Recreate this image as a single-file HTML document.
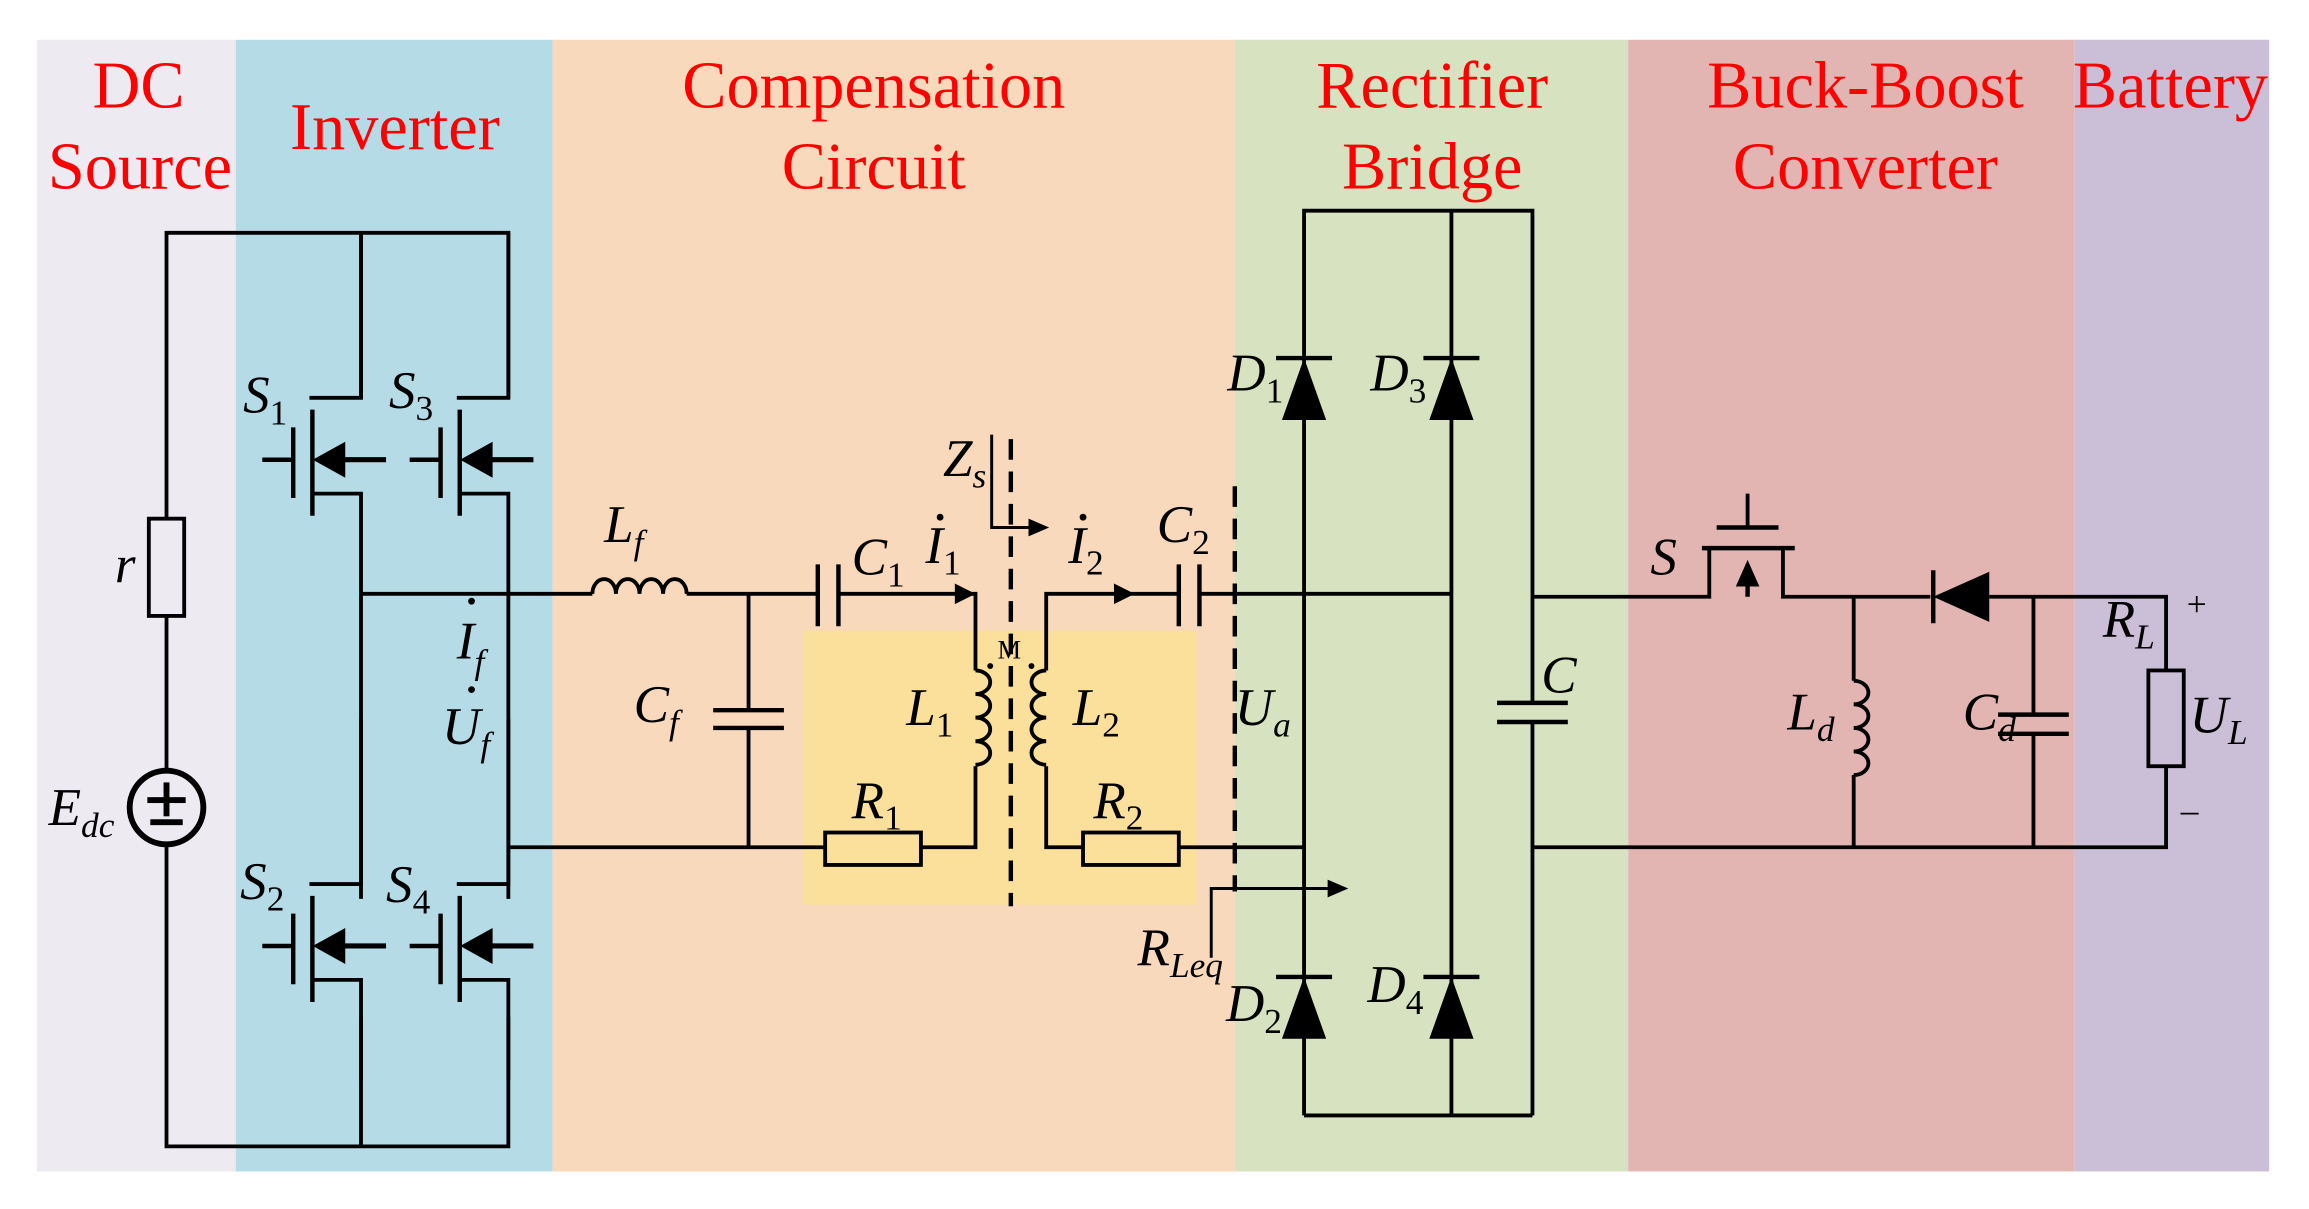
<!DOCTYPE html>
<html><head><style>html,body{margin:0;padding:0;background:#fff}svg{display:block}</style></head><body>
<svg width="2309" height="1209" viewBox="0 0 1567 820.5" preserveAspectRatio="none" xmlns="http://www.w3.org/2000/svg">
<rect x="25" y="27" width="135" height="768" fill="#edeaf2"/>
<rect x="160" y="27" width="215" height="768" fill="#b5dce6"/>
<rect x="375" y="27" width="463" height="768" fill="#f9d9bb"/>
<rect x="838" y="27" width="267" height="768" fill="#d6e2c0"/>
<rect x="1105" y="27" width="303" height="768" fill="#e3b5b2"/>
<rect x="1408" y="27" width="132" height="768" fill="#cbbfd8"/>
<rect x="545" y="428" width="267" height="186" fill="#fbe09b"/>
<g font-family="Liberation Serif, serif" fill="#f00" font-size="45" text-anchor="middle">
<text x="94" y="73">DC</text><text x="95" y="128">Source</text>
<text x="268" y="101">Inverter</text>
<text x="593" y="73">Compensation</text><text x="593" y="128">Circuit</text>
<text x="972" y="73">Rectifier</text><text x="972" y="128">Bridge</text>
<text x="1266" y="73">Buck-Boost</text><text x="1266" y="128">Converter</text>
<text x="1473" y="73">Battery</text>
</g>
<g stroke="#000" stroke-width="2.6" fill="none">
<polyline points="113,352 113,158 345,158 345,270"/>
<line x1="245" y1="158" x2="245" y2="270"/>
<rect x="101" y="352" width="24" height="66"/>
<line x1="113" y1="418" x2="113" y2="522"/>
<circle cx="113" cy="548" r="25" stroke-width="4"/>
<polyline points="113,573 113,778 345,778 345,690"/>
<line x1="245" y1="778" x2="245" y2="690"/>
<g id="m">
<polyline points="245,158 245,270 210,270"/>
<line x1="212" y1="278" x2="212" y2="350" stroke-width="3"/>
<line x1="199" y1="290" x2="199" y2="338" stroke-width="3"/>
<line x1="178" y1="312" x2="199" y2="312" stroke-width="3"/>
<line x1="225" y1="312" x2="262" y2="312" stroke-width="3.5"/>
<polygon points="215,312 233,302 233,322" fill="#000"/>
<polyline points="212,335 245,335 245,403"/>
</g>
<use href="#m" transform="translate(100,0)"/>
<use href="#m" transform="translate(0,330)"/>
<use href="#m" transform="translate(100,330)"/>
<line x1="245" y1="403" x2="245" y2="610"/>
<line x1="345" y1="403" x2="345" y2="610"/>
<line x1="245" y1="403" x2="402" y2="403"/>
<path d="M402,403 a8,10 0 0 1 16,0 a8,10 0 0 1 16,0 a8,10 0 0 1 16,0 a8,10 0 0 1 16,0"/>
<line x1="466" y1="403" x2="555" y2="403"/>
<line x1="555" y1="383" x2="555" y2="425" stroke-width="3"/>
<line x1="569" y1="383" x2="569" y2="425" stroke-width="3"/>
<polyline points="569,403 662,403 662,455"/>
<line x1="508" y1="403" x2="508" y2="482"/>
<line x1="484" y1="482" x2="532" y2="482" stroke-width="3"/>
<line x1="484" y1="494" x2="532" y2="494" stroke-width="3"/>
<polyline points="345,575 560,575"/>
<line x1="508" y1="494" x2="508" y2="575"/>
<rect x="560" y="565" width="65" height="22"/>
<polyline points="625,575 662,575 662,520"/>
<path d="M662,455 a10,8 0 0 1 0,16 a10,8 0 0 1 0,16 a10,8 0 0 1 0,16 a10,8 0 0 1 0,16"/>
<path d="M710,455 a10,8 0 0 0 0,16 a10,8 0 0 0 0,16 a10,8 0 0 0 0,16 a10,8 0 0 0 0,16"/>
<polyline points="710,455 710,403 800,403"/>
<polyline points="710,520 710,575 735,575"/>
<rect x="735" y="565" width="65" height="22"/>
<line x1="800" y1="575" x2="885" y2="575"/>
<line x1="800" y1="383" x2="800" y2="425" stroke-width="3"/>
<line x1="814" y1="383" x2="814" y2="425" stroke-width="3"/>
<line x1="814" y1="403" x2="985" y2="403"/>
<line x1="686" y1="298" x2="686" y2="615" stroke-dasharray="14,8" stroke-width="3"/>
<line x1="838" y1="330" x2="838" y2="605" stroke-dasharray="14,8" stroke-width="3"/>
<polyline points="673,295 673,358 700,358" stroke-width="2"/>
<polyline points="822,650 822,603 905,603" stroke-width="2"/>
<polyline points="885,757 885,143 1040,143 1040,477"/>
<line x1="985" y1="143" x2="985" y2="757"/>
<line x1="1040" y1="490" x2="1040" y2="757"/>
<line x1="885" y1="757" x2="1040" y2="757"/>
<line x1="1016" y1="477" x2="1064" y2="477" stroke-width="3"/>
<line x1="1016" y1="490" x2="1064" y2="490" stroke-width="3"/>
<line x1="866" y1="243" x2="904" y2="243" stroke-width="3"/>
<line x1="966" y1="243" x2="1004" y2="243" stroke-width="3"/>
<line x1="866" y1="663" x2="904" y2="663" stroke-width="3"/>
<line x1="966" y1="663" x2="1004" y2="663" stroke-width="3"/>
<polyline points="1040,405 1160,405 1160,372"/>
<line x1="1155" y1="372" x2="1218" y2="372" stroke-width="3"/>
<line x1="1165" y1="358" x2="1207" y2="358" stroke-width="3"/>
<line x1="1186" y1="335" x2="1186" y2="358"/>
<polyline points="1210,372 1210,405 1310,405"/>
<line x1="1186" y1="405" x2="1186" y2="392" stroke-width="3"/>
<line x1="1312" y1="387" x2="1312" y2="423" stroke-width="3"/>
<polyline points="1350,405 1470,405 1470,455"/>
<rect x="1458" y="455" width="24" height="65"/>
<polyline points="1470,520 1470,575 1040,575"/>
<polyline points="1258,405 1258,462"/>
<path d="M1258,462 a10,8 0 0 1 0,16 a10,8 0 0 1 0,16 a10,8 0 0 1 0,16 a10,8 0 0 1 0,16"/>
<line x1="1258" y1="526" x2="1258" y2="575"/>
<line x1="1380" y1="405" x2="1380" y2="485"/>
<line x1="1356" y1="485" x2="1404" y2="485" stroke-width="3"/>
<line x1="1356" y1="498" x2="1404" y2="498" stroke-width="3"/>
<line x1="1380" y1="498" x2="1380" y2="575"/>
</g>
<g fill="#000">
<rect x="100" y="541" width="26" height="4"/><rect x="111" y="531" width="4" height="23"/><rect x="102" y="556" width="22" height="4"/>
<polygon points="662,403 648,396 648,410"/>
<polygon points="770,403 756,396 756,410"/>
<polygon points="712,358 698,352 698,364"/>
<polygon points="915,603 901,597 901,609"/>
<polygon points="885,243 870,285 900,285"/>
<polygon points="985,243 970,285 1000,285"/>
<polygon points="885,663 870,705 900,705"/>
<polygon points="985,663 970,705 1000,705"/>
<polygon points="1186,380 1178,398 1194,398"/>
<polygon points="1312,405 1350,388 1350,422"/>
<circle cx="672" cy="452" r="2"/><circle cx="700" cy="452" r="2"/>
<circle cx="320" cy="408" r="2.3"/><circle cx="320" cy="468" r="2.3"/>
<circle cx="638" cy="351" r="2.3"/><circle cx="735" cy="351" r="2.3"/>
</g>
<g font-family="Liberation Serif, serif" font-style="italic" font-size="36" fill="#000">
<text x="78" y="395">r</text>
<text x="33" y="560">E<tspan font-size="24" dy="8">dc</tspan></text>
<text x="165" y="280">S<tspan font-size="24" dy="8" font-style="normal">1</tspan></text>
<text x="264" y="277">S<tspan font-size="24" dy="8" font-style="normal">3</tspan></text>
<text x="163" y="610">S<tspan font-size="24" dy="8" font-style="normal">2</tspan></text>
<text x="262" y="612">S<tspan font-size="24" dy="8" font-style="normal">4</tspan></text>
<text x="410" y="368">L<tspan font-size="24" dy="8">f</tspan></text>
<text x="310" y="447">I<tspan font-size="24" dy="10">f</tspan></text>
<text x="300" y="505">U<tspan font-size="24" dy="8">f</tspan></text>
<text x="430" y="490">C<tspan font-size="24" dy="8">f</tspan></text>
<text x="578" y="390">C<tspan font-size="24" dy="8" font-style="normal">1</tspan></text>
<text x="628" y="382">I<tspan font-size="24" dy="8" font-style="normal">1</tspan></text>
<text x="725" y="382">I<tspan font-size="24" dy="8" font-style="normal">2</tspan></text>
<text x="785" y="368">C<tspan font-size="24" dy="8" font-style="normal">2</tspan></text>
<text x="640" y="323">Z<tspan font-size="24" dy="8">s</tspan></text>
<text x="615" y="492">L<tspan font-size="24" dy="8" font-style="normal">1</tspan></text>
<text x="728" y="492">L<tspan font-size="24" dy="8" font-style="normal">2</tspan></text>
<text x="578" y="555">R<tspan font-size="24" dy="8" font-style="normal">1</tspan></text>
<text x="742" y="555">R<tspan font-size="24" dy="8" font-style="normal">2</tspan></text>
<text x="838" y="492">U<tspan font-size="24" dy="8">a</tspan></text>
<text x="772" y="655">R<tspan font-size="24" dy="8">Leq</tspan></text>
<text x="832" y="693">D<tspan font-size="24" dy="8" font-style="normal">2</tspan></text>
<text x="928" y="680">D<tspan font-size="24" dy="8" font-style="normal">4</tspan></text>
<text x="833" y="265">D<tspan font-size="24" dy="8" font-style="normal">1</tspan></text>
<text x="930" y="265">D<tspan font-size="24" dy="8" font-style="normal">3</tspan></text>
<text x="1046" y="470">C</text>
<text x="1120" y="390">S</text>
<text x="1213" y="495">L<tspan font-size="24" dy="8">d</tspan></text>
<text x="1332" y="495">C<tspan font-size="24" dy="8">d</tspan></text>
<text x="1427" y="432">R<tspan font-size="24" dy="8">L</tspan></text>
<text x="1486" y="497">U<tspan font-size="24" dy="8">L</tspan></text>
</g>
<g font-family="Liberation Serif, serif" font-size="24" fill="#000">
<text x="1484" y="418">+</text><text x="1480" y="558">–</text>
<text x="677" y="447" font-size="18">M</text>
</g>
</svg>
</body></html>
